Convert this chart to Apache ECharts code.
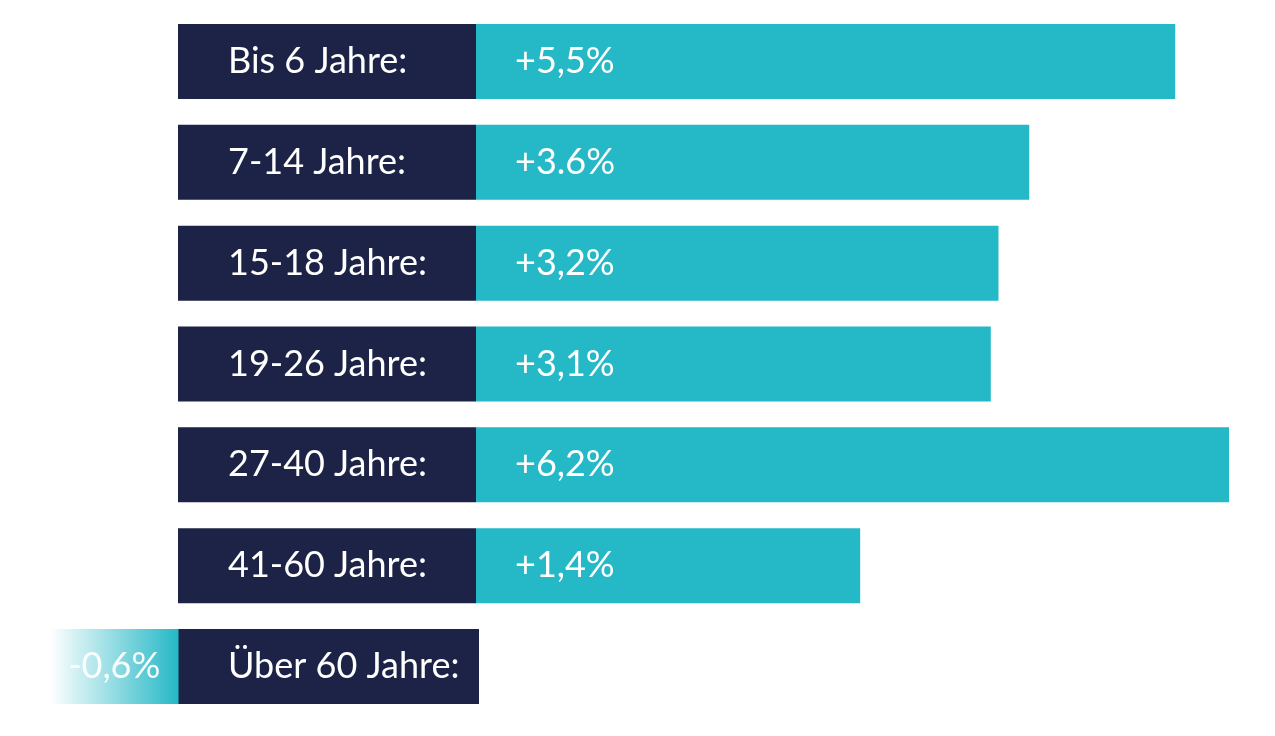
<!DOCTYPE html>
<html>
<head>
<meta charset="utf-8">
<script src="https://cdn.jsdelivr.net/npm/echarts@6/dist/echarts.min.js"></script>
<style>
html,body{margin:0;padding:0;background:#fff;}
#chart{width:1275px;height:736px;}
</style>
</head>
<body>
<div id="chart"></div>
<script>
// ---- data ----
const categories = ['Bis 6 Jahre:', '7-14 Jahre:', '15-18 Jahre:', '19-26 Jahre:', '27-40 Jahre:', '41-60 Jahre:', 'Über 60 Jahre:'];
const values = [5.5, 3.6, 3.2, 3.1, 6.2, 1.4, -0.6];
const valueLabels = ['+5,5%', '+3.6%', '+3,2%', '+3,1%', '+6,2%', '+1,4%', '-0,6%'];

// ---- style ----
const NAVY = '#1d2346';
const TEAL = '#25b8c6';
const FONT = 'Lato, "Noto Sans", sans-serif';
const FS = 36;
const FW = 400;
const BAR_H = 75;
const POS_MIN = -3.6, POS_MAX = 6.2;

const posData = values.map((v, i) => v >= 0 ? [v, i] : null).filter(d => d);
const negData = values.map(v => v < 0 ? v : null);

const boxStyle = (w) => ({
  color: '#ffffff', fontFamily: FONT, fontSize: FS, fontWeight: FW,
  backgroundColor: NAVY, width: w, height: BAR_H, lineHeight: BAR_H,
  padding: [0, 0, 0, 50], align: 'left', verticalAlign: 'middle'
});

const chart = echarts.init(document.getElementById('chart'), null, {renderer: 'canvas'});
chart.setOption({
  animation: false,
  grid: [
    {left: 476, right: 46, top: 11, bottom: 19, outerBoundsMode: 'none', containLabel: false},
    {left: 50, width: 128.5, top: 11, bottom: 19, outerBoundsMode: 'none', containLabel: false}
  ],
  xAxis: [
    {type: 'value', gridIndex: 0, min: POS_MIN, max: POS_MAX, show: false},
    {type: 'value', gridIndex: 1, min: -0.6, max: 0, show: false}
  ],
  yAxis: [
    {
      type: 'category', gridIndex: 0, data: categories, inverse: true,
      axisLine: {show: false}, axisTick: {show: false}, splitLine: {show: false},
      axisLabel: {
        margin: 298, align: 'left', verticalAlign: 'middle',
        color: '#ffffff', fontFamily: FONT, fontSize: FS, fontWeight: FW,
        formatter: (v, i) => (i === categories.length - 1 ? '{w|' : '{a|') + v + '}',
        rich: {
          a: boxStyle(248),
          w: boxStyle(251)
        }
      }
    },
    {
      type: 'category', gridIndex: 1, data: categories, inverse: true, show: false
    }
  ],
  series: [
    {
      type: 'custom',
      xAxisIndex: 0, yAxisIndex: 0,
      data: posData,
      encode: {x: 0, y: 1},
      renderItem: function (params, api) {
        const idx = api.value(1);
        const end = api.coord([api.value(0), idx]);
        const start = api.coord([POS_MIN, idx]);
        return {
          type: 'rect',
          shape: {x: start[0], y: end[1] - BAR_H / 2, width: end[0] - start[0], height: BAR_H},
          style: {fill: TEAL},
          textContent: {
            style: {text: valueLabels[idx], fill: '#ffffff', fontFamily: FONT, fontSize: FS, fontWeight: FW}
          },
          textConfig: {position: 'insideLeft', distance: 39}
        };
      }
    },
    {
      type: 'bar',
      xAxisIndex: 1, yAxisIndex: 1,
      data: negData,
      barWidth: BAR_H,
      itemStyle: {
        color: new echarts.graphic.LinearGradient(0, 0, 1, 0, [
          {offset: 0, color: 'rgba(37,184,198,0)'},
          {offset: 1, color: 'rgba(37,184,198,1)'}
        ])
      },
      label: {
        show: true, position: 'inside',
        formatter: p => valueLabels[p.dataIndex],
        color: 'rgba(255,255,255,0.95)', fontFamily: FONT, fontSize: FS, fontWeight: FW
      }
    }
  ]
});
</script>
</body>
</html>
